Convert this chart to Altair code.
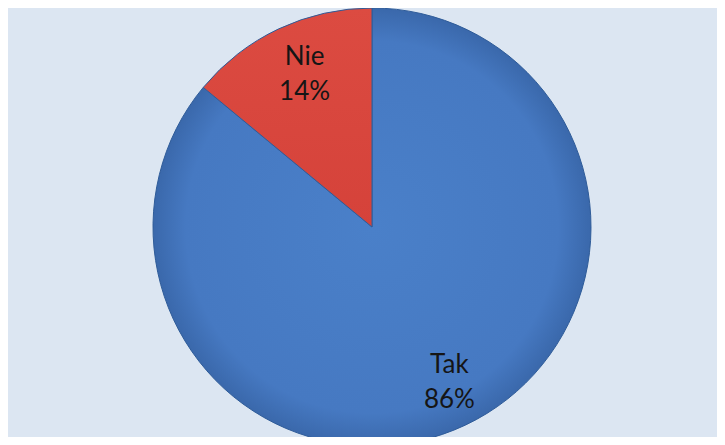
import altair as alt
import pandas as pd

categories = ["Tak", "Nie"]
values = [86, 14]
percent_labels = ["86%", "14%"]

df = pd.DataFrame({
    "kategoria": categories,
    "wartosc": values,
    "kolejnosc": list(range(len(categories))),
    "etykieta": [f"{c}\n{p}" for c, p in zip(categories, percent_labels)],
})

blue_fill = alt.Gradient(
    gradient="radial", x1=0.5, y1=0.5, x2=0.5, y2=0.5, r1=0, r2=0.5,
    stops=[alt.GradientStop(color="#4a80c9", offset=0),
           alt.GradientStop(color="#4679c2", offset=0.85),
           alt.GradientStop(color="#3a68ab", offset=1)],
)
red_fill = alt.Gradient(
    gradient="linear", x1=0, y1=0, x2=0, y2=1,
    stops=[alt.GradientStop(color="#dc4b41", offset=0),
           alt.GradientStop(color="#d5423a", offset=1)],
)

theta_scale = alt.Scale(domain=[0, sum(values)])

base = alt.Chart(df).transform_stack(
    stack="wartosc", groupby=[], as_=["start", "end"],
    sort=[alt.SortField("kolejnosc", order="ascending")],
).transform_calculate(
    mid="(datum.start + datum.end) / 2"
).encode(
    x=alt.value(364),
    y=alt.value(219),
)

arc_enc = dict(
    theta=alt.Theta("start:Q", scale=theta_scale),
    theta2=alt.Theta2("end:Q"),
)

pie_tak = base.mark_arc(outerRadius=219, stroke="#2f5c99", strokeWidth=1,
                        color=blue_fill).encode(**arc_enc).transform_filter(
    alt.datum.kategoria == "Tak")
pie_nie = base.mark_arc(outerRadius=219, stroke="#2f5c99", strokeWidth=1,
                        color=red_fill).encode(**arc_enc).transform_filter(
    alt.datum.kategoria == "Nie")

labels = base.mark_text(radius=170, font="Lato", fontSize=26, color="#151515",
                        lineBreak="\n", lineHeight=35, baseline="middle",
                        dx=5, dy=-16).encode(
    theta=alt.Theta("mid:Q", scale=theta_scale),
    text="etykieta:N",
)

chart = alt.layer(pie_tak, pie_nie, labels).properties(
    width=709, height=429,
    background="#dce6f2",
    padding=0,
    autosize=alt.AutoSizeParams(type="none"),
).configure_view(stroke=None)

chart.save("out.html", embed_options={"renderer": "svg", "actions": False})
